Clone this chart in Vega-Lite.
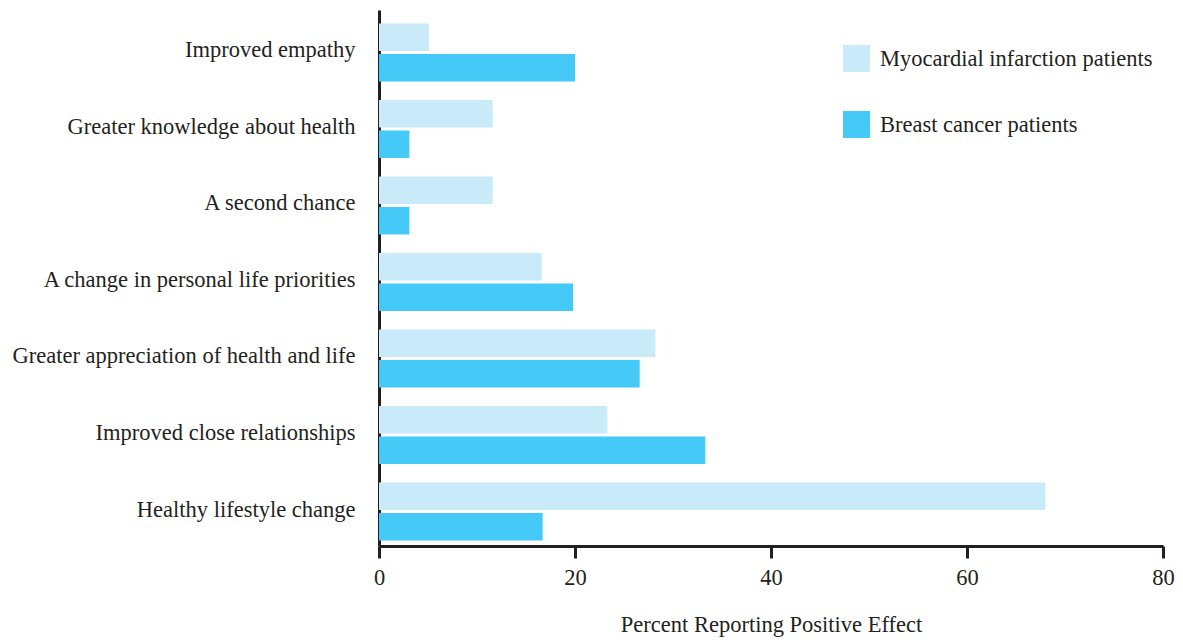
{
  "$schema": "https://vega.github.io/schema/vega-lite/v6.json",
  "autosize": {"type": "none"},
  "padding": {"left": 379, "top": 10, "right": 20, "bottom": 94},
  "width": 784,
  "height": 536,
  "background": "white",
  "config": {
    "view": {"stroke": null},
    "font": "Liberation Serif"
  },
  "data": {
    "values": [
      {"effect": "Improved empathy", "group": "Myocardial infarction patients", "pct": 5.1},
      {"effect": "Improved empathy", "group": "Breast cancer patients", "pct": 20.0},
      {"effect": "Greater knowledge about health", "group": "Myocardial infarction patients", "pct": 11.6},
      {"effect": "Greater knowledge about health", "group": "Breast cancer patients", "pct": 3.1},
      {"effect": "A second chance", "group": "Myocardial infarction patients", "pct": 11.6},
      {"effect": "A second chance", "group": "Breast cancer patients", "pct": 3.1},
      {"effect": "A change in personal life priorities", "group": "Myocardial infarction patients", "pct": 16.6},
      {"effect": "A change in personal life priorities", "group": "Breast cancer patients", "pct": 19.8},
      {"effect": "Greater appreciation of health and life", "group": "Myocardial infarction patients", "pct": 28.2},
      {"effect": "Greater appreciation of health and life", "group": "Breast cancer patients", "pct": 26.6},
      {"effect": "Improved close relationships", "group": "Myocardial infarction patients", "pct": 23.3},
      {"effect": "Improved close relationships", "group": "Breast cancer patients", "pct": 33.3},
      {"effect": "Healthy lifestyle change", "group": "Myocardial infarction patients", "pct": 68.0},
      {"effect": "Healthy lifestyle change", "group": "Breast cancer patients", "pct": 16.7}
    ]
  },
  "mark": {"type": "bar"},
  "encoding": {
    "y": {
      "field": "effect",
      "type": "nominal",
      "sort": null,
      "scale": {"paddingInner": 0.242, "paddingOuter": 0.124, "align": 0.71},
      "axis": {
        "title": null,
        "ticks": false,
        "domainColor": "#231F20",
        "domainWidth": 3,
        "labelFont": "Liberation Serif",
        "labelFontSize": 22.5,
        "labelColor": "#231F20",
        "labelPadding": 24,
        "labelLimit": 400,
        "labelOffset": -2
      }
    },
    "yOffset": {
      "field": "group",
      "type": "nominal",
      "sort": ["Myocardial infarction patients", "Breast cancer patients"],
      "scale": {"paddingInner": 0.1, "paddingOuter": 0}
    },
    "x": {
      "field": "pct",
      "type": "quantitative",
      "scale": {"domain": [0, 80], "nice": false},
      "axis": {
        "title": "Percent Reporting Positive Effect",
        "values": [0, 20, 40, 60, 80],
        "grid": false,
        "labelFlush": false,
        "domainColor": "#231F20",
        "domainWidth": 3,
        "tickColor": "#231F20",
        "tickWidth": 3,
        "tickSize": 12,
        "labelFont": "Liberation Serif",
        "labelFontSize": 22.5,
        "labelColor": "#231F20",
        "labelPadding": 8,
        "titleFont": "Liberation Serif",
        "titleFontSize": 22.5,
        "titleFontWeight": "normal",
        "titleColor": "#231F20",
        "titlePadding": 25
      }
    },
    "color": {
      "field": "group",
      "type": "nominal",
      "sort": ["Myocardial infarction patients", "Breast cancer patients"],
      "scale": {
        "domain": ["Myocardial infarction patients", "Breast cancer patients"],
        "range": ["#C8EAF9", "#45C9F6"]
      },
      "legend": {
        "title": null,
        "orient": "none",
        "legendX": 464,
        "legendY": 35,
        "symbolType": "square",
        "symbolSize": 729,
        "symbolStrokeWidth": 0,
        "symbolOpacity": 1,
        "rowPadding": 39,
        "labelOffset": 10,
        "labelFont": "Liberation Serif",
        "labelFontSize": 22.5,
        "labelColor": "#231F20",
        "labelLimit": 400
      }
    }
  }
}
